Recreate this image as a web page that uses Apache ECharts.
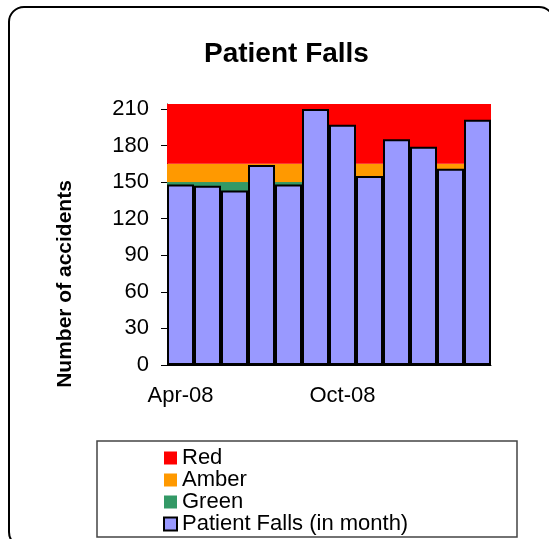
<!DOCTYPE html>
<html>
<head>
<meta charset="utf-8">
<script src="https://cdn.jsdelivr.net/npm/echarts@6/dist/echarts.min.js"></script>
<style>
	html, body { margin: 0; padding: 0; background: #fff; }
	#main { width: 549px; height: 539px; }
</style>
</head>
<body>
<div id="main"></div>
<script>
// months shown on the x axis
var months = ['Apr-08', 'May-08', 'Jun-08', 'Jul-08', 'Aug-08', 'Sep-08',
	'Oct-08', 'Nov-08', 'Dec-08', 'Jan-09', 'Feb-09', 'Mar-09'];
// patient falls per month
var falls = [148, 147, 143, 164, 148, 210, 197, 155, 185, 179, 161, 201];
// rag bands (thickness of each band, stacked)
var green = [150, 150, 150, 150, 150, 150, 150, 150, 150, 150, 150, 150];
var amber = [15, 15, 15, 15, 15, 15, 15, 15, 15, 15, 15, 15];
var red = [49, 49, 49, 49, 49, 49, 49, 49, 49, 49, 49, 49];
var yTicks = [0, 30, 60, 90, 120, 150, 180, 210];

var FONT = "'Liberation Sans', Arial, sans-serif";

function initChart(el) {
	var mychart = echarts.init(el, null, { renderer: 'canvas' });
	var option = {
		animation: false,
		backgroundColor: '#fff',
		title: {
			text: 'Patient Falls',
			left: 199,
			top: 35,
			textStyle: { fontFamily: FONT, fontSize: 28, fontWeight: 'bold', color: '#000' }
		},
		legend: {
			data: ['Red', 'Amber', 'Green', 'Patient Falls (in month)'],
			orient: 'vertical',
			left: 158,
			top: 442,
			height: 120,
			itemWidth: 13,
			itemHeight: 13,
			itemGap: 0,
			icon: 'rect',
			selectedMode: false,
			textStyle: { fontFamily: FONT, fontSize: 22, lineHeight: 22, color: '#000' }
		},
		// 324px wide plot -> 27px per month, keeps bar edges on whole pixels
		grid: {
			left: 167,
			right: 58,
			top: 104,
			bottom: 174,
			outerBoundsMode: 'none'
		},
		xAxis: {
			type: 'category',
			data: months,
			axisLine: { lineStyle: { color: '#000', width: 1 } },
			axisTick: { interval: 5, length: 6, lineStyle: { color: '#000' } },
			axisLabel: { interval: 5, margin: 20, fontFamily: FONT, fontSize: 22, color: '#000' }
		},
		yAxis: {
			type: 'value',
			min: 0,
			max: 214,
			interval: 30,
			splitLine: { show: false },
			axisLine: { show: true, lineStyle: { color: '#000', width: 1 } },
			axisTick: { show: true, length: 6, customValues: yTicks, lineStyle: { color: '#000' } },
			axisLabel: { margin: 18, customValues: yTicks, fontFamily: FONT, fontSize: 22, color: '#000' }
		},
		series: [{
			name: 'Green',
			type: 'bar',
			stack: 'rag',
			barCategoryGap: 0,
			itemStyle: { color: '#339966' },
			data: green
		}, {
			name: 'Amber',
			type: 'bar',
			stack: 'rag',
			itemStyle: { color: '#FF9900' },
			data: amber
		}, {
			name: 'Red',
			type: 'bar',
			stack: 'rag',
			itemStyle: { color: '#FF0000' },
			data: red
		}, {
			name: 'Patient Falls (in month)',
			type: 'bar',
			barGap: '-100%',
			barCategoryGap: 0,
			itemStyle: { color: '#9999FF', borderColor: '#000', borderWidth: 2 },
			data: falls
		}],
		graphic: [{
			type: 'rect',
			shape: { x: 9, y: 7, width: 545, height: 540, r: 15 },
			style: { fill: null, stroke: '#000', lineWidth: 2 },
			silent: true
		}, {
			type: 'rect',
			shape: { x: 97, y: 441, width: 420, height: 96 },
			style: { fill: null, stroke: '#444', lineWidth: 1.5 },
			silent: true
		}, {
			type: 'text',
			x: 65,
			y: 284,
			rotation: Math.PI / 2,
			style: {
				text: 'Number of accidents',
				fontFamily: FONT,
				fontSize: 21,
				fontWeight: 'bold',
				fill: '#000',
				align: 'center',
				verticalAlign: 'middle'
			},
			silent: true
		}]
	};
	mychart.setOption(option);
	return mychart;
}

initChart(document.getElementById('main'));
</script>
</body>
</html>
